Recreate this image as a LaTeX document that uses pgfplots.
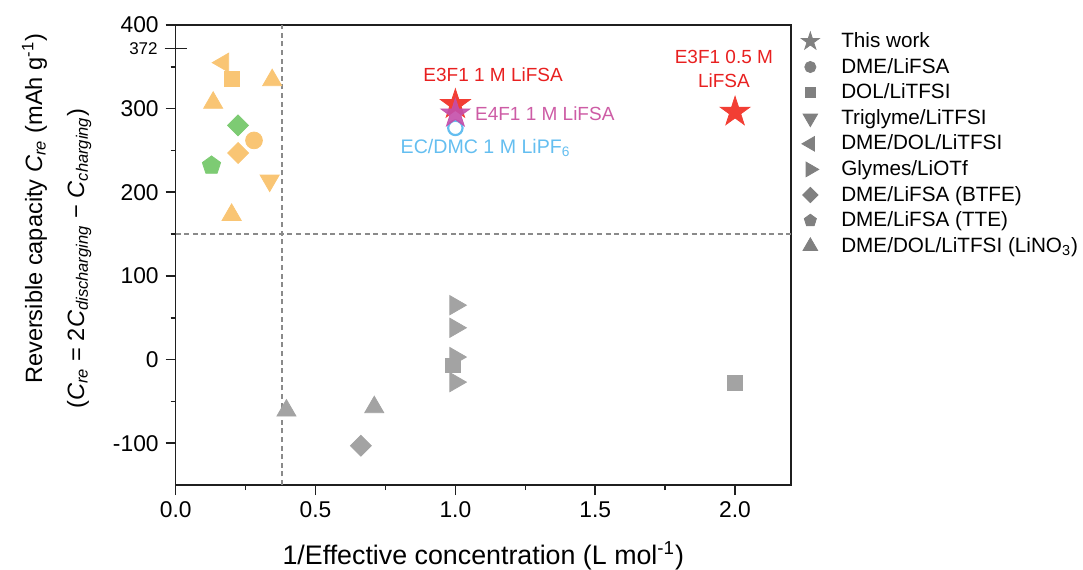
\documentclass[border=0pt]{standalone}
\usepackage{fontspec}
\setmainfont{Liberation Sans}
\usepackage{pgfplots}
\pgfplotsset{compat=1.18}
\usetikzlibrary{plotmarks}

\definecolor{orng}{RGB}{249,197,116}
\definecolor{grn}{RGB}{125,203,115}
\definecolor{gry}{RGB}{163,163,163}
\definecolor{legg}{RGB}{128,128,128}
\definecolor{redst}{RGB}{242,62,52}
\definecolor{redtx}{RGB}{232,32,32}
\definecolor{mag}{RGB}{196,78,170}
\definecolor{magtx}{RGB}{205,92,165}
\definecolor{blu}{RGB}{100,190,240}
\definecolor{dashgray}{RGB}{138,138,138}

\pgfdeclareplotmark{fstar}{%
  \pgfpathmoveto{\pgfpointpolar{90}{\pgfplotmarksize}}%
  \pgfpathlineto{\pgfpointpolar{126}{0.382\pgfplotmarksize}}%
  \pgfpathlineto{\pgfpointpolar{162}{\pgfplotmarksize}}%
  \pgfpathlineto{\pgfpointpolar{198}{0.382\pgfplotmarksize}}%
  \pgfpathlineto{\pgfpointpolar{234}{\pgfplotmarksize}}%
  \pgfpathlineto{\pgfpointpolar{270}{0.382\pgfplotmarksize}}%
  \pgfpathlineto{\pgfpointpolar{306}{\pgfplotmarksize}}%
  \pgfpathlineto{\pgfpointpolar{342}{0.382\pgfplotmarksize}}%
  \pgfpathlineto{\pgfpointpolar{18}{\pgfplotmarksize}}%
  \pgfpathlineto{\pgfpointpolar{54}{0.382\pgfplotmarksize}}%
  \pgfpathclose
  \pgfusepathqfillstroke
}

\begin{document}
\begin{tikzpicture}
\begin{axis}[
  at={(0,0)}, anchor=south west,
  scale only axis, width=307.65pt, height=230pt,
  xmin=0, xmax=2.2, ymin=-150, ymax=400,
  axis line style={line width=0.8pt, color=black!88},
  xtick={0,0.5,1,1.5,2}, minor x tick num=1,
  ytick={-100,0,100,200,300,400}, minor y tick num=1,
  extra y ticks={372},
  extra y tick style={tick align=center, major tick length=11pt,
     yticklabel style={font=\fontsize{8.5}{10}\selectfont}},
  xtick pos=bottom, ytick pos=left, tick align=outside,
  major tick length=5pt, minor tick length=2.5pt,
  every tick/.style={line width=0.8pt, color=black!88},
  /pgf/number format/assume math mode=true,
  xticklabel style={/pgf/number format/.cd, fixed, fixed zerofill, precision=1},
  ticklabel style={font=\fontsize{11.4}{13}\selectfont},
  every axis y label/.style={at={(axis description cs:-0.1935,0.546)}, rotate=90, anchor=center, align=center, font=\fontsize{11.8}{14}\selectfont},
  every axis x label/.style={at={(axis description cs:0.5,0)}, yshift=-35.5pt, anchor=center, font=\fontsize{13.4}{15}\selectfont},
  xlabel={1/Effective concentration (L mol\textsuperscript{-1})},
  ylabel={\hspace*{25pt}Reversible capacity \textit{C}\textsubscript{\textit{re}} (mAh g\textsuperscript{-1})\\[7pt](\textit{C}\textsubscript{\textit{re}} = 2\textit{C}\textsubscript{\textit{discharging}} − \textit{C}\textsubscript{\textit{charging}})\hspace*{25pt}},
  legend style={at={(axis description cs:1,1)}, anchor=north west, xshift=2pt, yshift=0.5pt,
     draw=none, fill=none, font=\fontsize{10.35}{12}\selectfont,
     row sep=-0.2pt,
     /tikz/every odd column/.append style={column sep=9pt}},
  legend cell align=left,
]
% dashed guide lines
\addplot[forget plot, color=dashgray, line width=0.7pt, dash pattern=on 2.5pt off 1.8pt] coordinates {(0.38,-150) (0.38,400)};
\addplot[forget plot, color=dashgray, line width=0.7pt, dash pattern=on 2.5pt off 1.8pt] coordinates {(0,150) (2.2,150)};

% orange (literature, high)
\addplot[forget plot, only marks, mark=*, mark size=4.2pt, color=orng] coordinates {(0.28,262)};
\addplot[forget plot, only marks, mark=square*, mark size=3.7pt, color=orng] coordinates {(0.20,336)};
\addplot[forget plot, only marks, mark=triangle*, mark size=5.5pt, mark options={rotate=180}, color=orng] coordinates {(0.336,214)};
\addplot[forget plot, only marks, mark=triangle*, mark size=5.5pt, mark options={rotate=90}, color=orng] coordinates {(0.17,355)};
\addplot[forget plot, only marks, mark=square*, mark size=3.7pt, mark options={rotate=45}, color=orng] coordinates {(0.223,247)};
\addplot[forget plot, only marks, mark=triangle*, mark size=5.5pt, color=orng] coordinates {(0.345,334) (0.134,307) (0.20,173)};
% green
\addplot[forget plot, only marks, mark=square*, mark size=3.7pt, mark options={rotate=45}, color=grn] coordinates {(0.223,280)};
\addplot[forget plot, only marks, mark=pentagon*, mark size=4.8pt, color=grn] coordinates {(0.128,232)};
% gray
\addplot[forget plot, only marks, mark=triangle*, mark size=5.5pt, mark options={rotate=-90}, color=gry] coordinates {(1.0,65) (1.0,38) (1.0,3) (1.0,-27)};
\addplot[forget plot, only marks, mark=square*, mark size=3.7pt, color=gry] coordinates {(0.99,-7) (2.0,-28)};
\addplot[forget plot, only marks, mark=triangle*, mark size=5.5pt, color=gry] coordinates {(0.396,-61) (0.71,-57)};
\addplot[forget plot, only marks, mark=square*, mark size=3.7pt, mark options={rotate=45}, color=gry] coordinates {(0.662,-103)};
% this work
\addplot[forget plot, only marks, mark=*, mark size=3.6pt, mark options={fill=white, draw=blu, line width=1.1pt}] coordinates {(1.0,277)};
\addplot[forget plot, only marks, mark=fstar, mark size=7.8pt, color=redst] coordinates {(1.0,305) (2.0,296)};
\addplot[forget plot, only marks, mark=fstar, mark size=7.6pt, color=mag, opacity=0.9] coordinates {(1.0,294)};

\node[text=redtx, font=\fontsize{9.5}{11}\selectfont] at (axis cs:1.135,340.5) {E3F1 1 M LiFSA};
\node[text=magtx, font=\fontsize{9.5}{11}\selectfont, anchor=west, inner sep=0pt] at (axis cs:1.069,294) {E4F1 1 M LiFSA};
\node[text=blu, font=\fontsize{9.8}{11}\selectfont] at (axis cs:1.108,253) {EC/DMC 1 M LiPF\textsubscript{6}};
\node[text=redtx, font=\fontsize{9.5}{11.8}\selectfont, align=center] at (axis cs:1.96,347.5) {E3F1 0.5 M\\LiFSA};

% legend
\addlegendimage{only marks, mark=fstar, mark size=4.7pt, color=legg}
\addlegendentry{This work}
\addlegendimage{only marks, mark=*, mark size=2.8pt, color=legg}
\addlegendentry{DME/LiFSA}
\addlegendimage{only marks, mark=square*, mark size=2.5pt, color=legg}
\addlegendentry{DOL/LiTFSI}
\addlegendimage{only marks, mark=triangle*, mark size=4.2pt, mark options={rotate=180}, color=legg}
\addlegendentry{Triglyme/LiTFSI}
\addlegendimage{only marks, mark=triangle*, mark size=4.2pt, mark options={rotate=90}, color=legg}
\addlegendentry{DME/DOL/LiTFSI}
\addlegendimage{only marks, mark=triangle*, mark size=4.2pt, mark options={rotate=-90}, color=legg}
\addlegendentry{Glymes/LiOTf}
\addlegendimage{only marks, mark=square*, mark size=2.7pt, mark options={rotate=45}, color=legg}
\addlegendentry{DME/LiFSA (BTFE)}
\addlegendimage{only marks, mark=pentagon*, mark size=3.2pt, color=legg}
\addlegendentry{DME/LiFSA (TTE)}
\addlegendimage{only marks, mark=triangle*, mark size=4.2pt, color=legg}
\addlegendentry{DME/DOL/LiTFSI (LiNO\textsubscript{3})}
\end{axis}
\pgfresetboundingbox
\path (-87.85pt,-42pt) rectangle (453.65pt,242.5pt);
\end{tikzpicture}
\end{document}
